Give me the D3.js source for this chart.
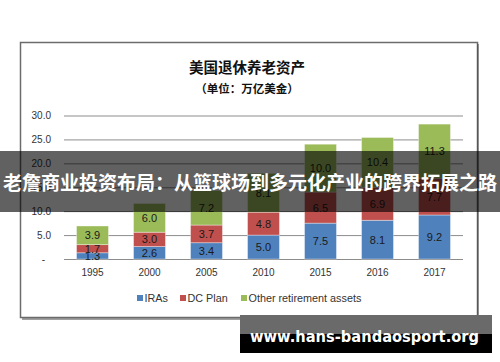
<!DOCTYPE html>
<html>
<head>
<meta charset="utf-8">
<script src="https://cdn.jsdelivr.net/npm/d3@7"></script>
<style>
  body { margin: 0; background: #fff; }
  svg { display: block; }
</style>
</head>
<body>
<svg id="chart"></svg>
<script>
const years = ['1995', '2000', '2005', '2010', '2015', '2016', '2017'];
const iras = [1.3, 2.6, 3.4, 5.0, 7.5, 8.1, 9.2];
const dcPlan = [1.7, 3.0, 3.7, 4.8, 6.5, 6.9, 7.7];
const otherAssets = [3.9, 6.0, 7.2, 8.1, 10.0, 10.4, 11.3];
const seriesNames = ['IRAs', 'DC Plan', 'Other retirement assets'];
const yTicks = [0, 5, 10, 15, 20, 25, 30];

const width = 500;
const height = 362;
const colors = ['#4F81BD', '#C0504D', '#9BBB59'];
const font = '"Liberation Sans", "DejaVu Sans", sans-serif';
const cjk = '"Noto Sans CJK SC", sans-serif';

const svg = d3.select('#chart').attr('width', width).attr('height', height);

// Chart frame (Excel style box)
svg.append('rect')
  .attr('x', 20.5).attr('y', 42.5)
  .attr('width', 457).attr('height', 275)
  .attr('fill', '#fff')
  .attr('stroke', '#6b6b6b')
  .attr('stroke-width', 1.5);
svg.append('path')
  .attr('d', 'M478,44 V319 H22')
  .attr('fill', 'none')
  .attr('stroke', '#444')
  .attr('stroke-width', 1);

// Titles
svg.append('text')
  .attr('x', 247).attr('y', 73)
  .attr('text-anchor', 'middle')
  .style('font-family', cjk)
  .style('font-size', '14.5px')
  .style('font-weight', 'bold')
  .attr('fill', '#111')
  .text('美国退休养老资产');

svg.append('text')
  .attr('x', 247).attr('y', 93)
  .attr('text-anchor', 'middle')
  .style('font-family', cjk)
  .style('font-size', '11.5px')
  .style('font-weight', 'bold')
  .attr('fill', '#111')
  .text('（单位：万亿美金）');

// Scales
const xScale = d3.scaleBand()
  .domain(years)
  .range([64, 463])
  .paddingInner(0.44)
  .paddingOuter(0.22);

const yScale = d3.scaleLinear()
  .domain([0, 30])
  .range([259, 115.5]);

// Gridlines + y labels
const yAxis = d3.axisLeft(yScale)
  .tickValues(yTicks)
  .tickSize(-(463 - 64))
  .tickPadding(13)
  .tickFormat((d) => d === 0 ? '-' : d.toFixed(1));

const yAxisGroup = svg.append('g')
  .attr('transform', 'translate(64,0)')
  .call(yAxis);
yAxisGroup.select('.domain').remove();
yAxisGroup.selectAll('line').attr('stroke', '#8c8c8c');
yAxisGroup.selectAll('text')
  .style('font-family', font)
  .style('font-size', '10px')
  .attr('fill', '#333')
  .attr('dx', (d) => d === 0 ? -6 : 0);

// Stack the series
const table = years.map((y, i) => ({ year: y, a: iras[i], b: dcPlan[i], c: otherAssets[i] }));
const stack = d3.stack().keys(['a', 'b', 'c'])(table);

const layers = svg.append('g')
  .selectAll('g')
  .data(stack)
  .join('g')
  .attr('fill', (d, i) => colors[i]);

layers.selectAll('rect')
  .data((d) => d)
  .join('rect')
  .attr('x', (d) => xScale(d.data.year))
  .attr('y', (d) => yScale(d[1]))
  .attr('width', xScale.bandwidth())
  .attr('height', (d) => yScale(d[0]) - yScale(d[1]))
  .attr('stroke', 'rgba(255,255,255,0.45)')
  .attr('stroke-width', 0.8);

// Data labels
layers.selectAll('text')
  .data((d) => d)
  .join('text')
  .attr('x', (d) => xScale(d.data.year) + xScale.bandwidth() / 2)
  .attr('y', (d) => (yScale(d[0]) + yScale(d[1])) / 2)
  .attr('dy', '0.36em')
  .attr('text-anchor', 'middle')
  .attr('fill', '#1a1a1a')
  .style('font-family', font)
  .style('font-size', '11px')
  .text((d) => (d[1] - d[0]).toFixed(1));

// X axis labels
const xAxisGroup = svg.append('g')
  .attr('transform', 'translate(0,259)')
  .call(d3.axisBottom(xScale).tickSize(0).tickPadding(10));
xAxisGroup.select('.domain').remove();
xAxisGroup.selectAll('text')
  .style('font-family', font)
  .style('font-size', '10px')
  .attr('fill', '#333');

// Legend
const legendX = [137, 180, 241];
const legend = svg.append('g')
  .selectAll('g')
  .data(seriesNames)
  .join('g')
  .attr('transform', (d, i) => `translate(${legendX[i]},298)`);
legend.append('rect')
  .attr('x', 0).attr('y', -3)
  .attr('width', 6).attr('height', 6)
  .attr('fill', (d, i) => colors[i]);
legend.append('text')
  .attr('x', 7.5).attr('dy', '0.35em')
  .style('font-family', font)
  .style('font-size', '10.8px')
  .attr('fill', '#333')
  .text((d) => d);

// Headline banner on top of the chart
svg.append('rect')
  .attr('x', 0).attr('y', 151)
  .attr('width', width).attr('height', 61)
  .attr('fill', 'rgba(0,0,0,0.62)');
svg.append('text')
  .attr('x', 250).attr('y', 183)
  .attr('dy', '0.35em')
  .attr('text-anchor', 'middle')
  .attr('textLength', 494)
  .attr('lengthAdjust', 'spacingAndGlyphs')
  .style('font-family', cjk)
  .style('font-size', '19px')
  .style('font-weight', 'bold')
  .attr('fill', '#fff')
  .text('老詹商业投资布局：从篮球场到多元化产业的跨界拓展之路');

// Watermark
svg.append('rect')
  .attr('x', 240).attr('y', 315)
  .attr('width', 252).attr('height', 38)
  .attr('fill', '#000');
svg.append('rect')
  .attr('x', 240).attr('y', 315)
  .attr('width', 252).attr('height', 19)
  .attr('fill', '#6a6a6a');
svg.append('text')
  .attr('x', 250).attr('y', 342)
  .attr('textLength', 229)
  .attr('lengthAdjust', 'spacingAndGlyphs')
  .style('font-family', '"DejaVu Sans", sans-serif')
  .style('font-size', '16px')
  .style('font-weight', 'bold')
  .attr('fill', '#fff')
  .text('www.hans-bandaosport.org');
</script>
</body>
</html>
